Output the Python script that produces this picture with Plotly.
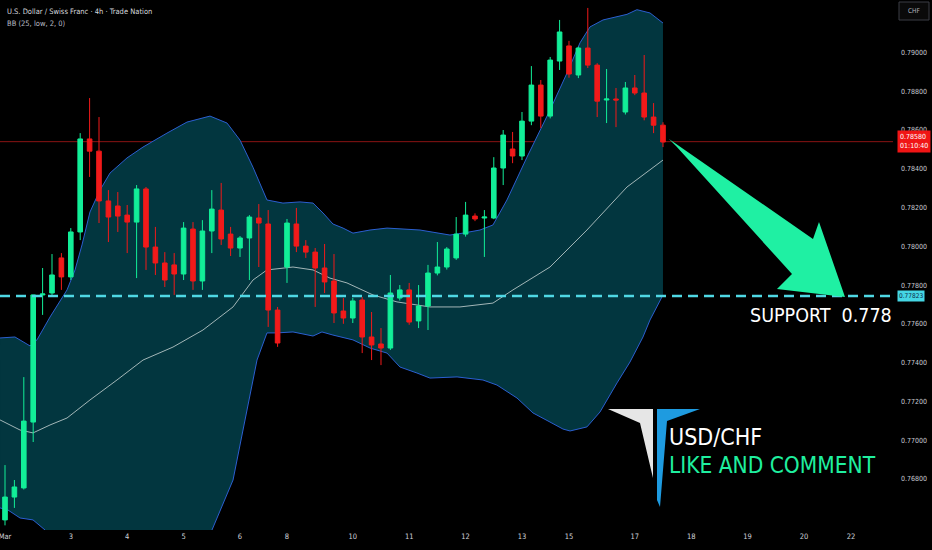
import plotly.graph_objects as go

# ---------------- data ----------------
opens = [0.76588,0.76706,0.76753,0.77093,0.77749,0.77759,0.77940,0.77842,0.78074,0.78554,
         0.78491,0.78234,0.78208,0.78161,0.78125,0.78296,0.77996,0.77914,0.77904,0.77857,
         0.78089,0.77821,0.78079,0.78187,0.78063,0.77991,0.78043,0.78146,0.78115,0.77671,
         0.77893,0.78115,0.78001,0.77970,0.77888,0.77821,0.77666,0.77630,0.77723,0.77532,
         0.77496,0.77475,0.77733,0.77775,0.77615,0.77692,0.77862,0.77893,0.77940,0.78063,
         0.78156,0.78146,0.78146,0.78404,0.78502,0.78466,0.78646,0.78832,0.78672,0.78956,
         0.79034,0.78884,0.79023,0.78935,0.78755,0.78760,0.78693,0.78817,0.78791,0.78667,
         0.78625]
highs = [0.76871,0.76794,0.77325,0.77749,0.77888,0.77960,0.77965,0.78094,0.78584,0.78765,
         0.78667,0.78290,0.78280,0.78213,0.78316,0.78306,0.78100,0.77970,0.77965,0.78125,
         0.78125,0.78135,0.78290,0.78327,0.78100,0.78053,0.78161,0.78218,0.78187,0.77687,
         0.78141,0.78198,0.78032,0.77991,0.78012,0.77960,0.77733,0.77733,0.77738,0.77661,
         0.77578,0.77852,0.77800,0.77811,0.77800,0.77904,0.78022,0.77996,0.78151,0.78229,
         0.78170,0.78187,0.78460,0.78600,0.78590,0.78693,0.78930,0.78858,0.78977,0.79168,
         0.79060,0.79030,0.79230,0.78945,0.78915,0.78817,0.78848,0.78884,0.78987,0.78739,
         0.78640]
lows = [0.76560,0.76650,0.76745,0.76990,0.77646,0.77749,0.77775,0.77826,0.78032,0.78358,
        0.78120,0.78022,0.78074,0.77965,0.77836,0.77878,0.77852,0.77790,0.77749,0.77826,
        0.77775,0.77775,0.77965,0.78007,0.77950,0.77945,0.77826,0.77893,0.77584,0.77481,
        0.77811,0.77970,0.77940,0.77687,0.77759,0.77604,0.77600,0.77604,0.77449,0.77413,
        0.77387,0.77465,0.77720,0.77595,0.77578,0.77568,0.77850,0.77880,0.77930,0.78050,
        0.78130,0.77945,0.78140,0.78316,0.78429,0.78445,0.78625,0.78610,0.78660,0.78910,
        0.78870,0.78868,0.78920,0.78667,0.78636,0.78615,0.78680,0.78780,0.78650,0.78584,
        0.78512]
closes = [0.76706,0.76758,0.77098,0.77749,0.77754,0.77852,0.77842,0.78074,0.78554,0.78491,
          0.78234,0.78151,0.78156,0.78125,0.78296,0.77996,0.77914,0.77826,0.77857,0.78094,
          0.77821,0.78079,0.78192,0.78038,0.77991,0.78043,0.78151,0.78120,0.77671,0.77501,
          0.78120,0.78001,0.77970,0.77888,0.77816,0.77656,0.77630,0.77718,0.77532,0.77491,
          0.77475,0.77759,0.77775,0.77609,0.77692,0.77862,0.77893,0.77986,0.78063,0.78161,
          0.78141,0.78151,0.78404,0.78574,0.78466,0.78646,0.78832,0.78672,0.78961,0.79106,
          0.78889,0.79023,0.78935,0.78749,0.78760,0.78755,0.78817,0.78791,0.78667,0.78625,
          0.78538]
bar_index = list(range(len(opens)))

# Bollinger band (25, low, 2, 0) read at sample positions (bar index units)
upper_x = [-0.53,1.06,2.66,3.40,4.79,6.60,7.45,8.19,9.04,10.11,11.17,12.98,14.68,17.23,19.36,
           21.81,23.62,25.00,26.38,27.87,29.57,31.38,32.77,33.83,34.89,35.96,37.02,38.83,40.64,
           44.15,47.34,48.72,50.53,51.91,53.40,55.53,57.98,59.79,61.17,62.23,63.62,66.17,67.23,
           68.62,70.00]
upper_y = [0.77527,0.77532,0.77486,0.77517,0.77635,0.77775,0.77878,0.78007,0.78177,0.78290,
           0.78378,0.78456,0.78512,0.78584,0.78641,0.78672,0.78636,0.78548,0.78408,0.78239,
           0.78223,0.78229,0.78223,0.78172,0.78115,0.78094,0.78068,0.78084,0.78094,0.78084,
           0.78058,0.78068,0.78084,0.78110,0.78239,0.78460,0.78703,0.78894,0.79050,0.79132,
           0.79168,0.79197,0.79221,0.79204,0.79152]
lower_x = [-0.53,0.32,1.60,2.98,4.26,5.85,10.11,15.43,19.68,22.02,24.26,25.32,26.81,27.87,
           28.94,30.64,32.77,33.72,34.89,37.02,38.83,40.64,42.02,43.83,45.21,48.09,50.85,52.34,
           54.47,56.17,57.98,59.36,60.11,61.91,63.30,65.11,66.49,67.87,68.62,70.00]
lower_y = [0.76650,0.76639,0.76598,0.76588,0.76536,0.76459,0.76356,0.76330,0.76407,0.76536,
           0.76794,0.77052,0.77413,0.77553,0.77553,0.77558,0.77537,0.77558,0.77542,0.77517,
           0.77475,0.77449,0.77377,0.77346,0.77320,0.77326,0.77310,0.77284,0.77217,0.77140,
           0.77093,0.77057,0.77047,0.77068,0.77145,0.77295,0.77403,0.77532,0.77620,0.77749]
mid_x = [-0.53,1.60,2.98,4.79,6.60,9.04,11.91,14.68,17.87,21.06,24.26,26.38,27.87,30.64,
         32.77,34.57,36.38,39.15,41.70,45.21,48.40,51.91,54.04,57.98,61.91,66.17,70.00]
mid_y = [0.77104,0.77052,0.77037,0.77078,0.77114,0.77207,0.77310,0.77413,0.77480,0.77568,
         0.77687,0.77826,0.77878,0.77893,0.77878,0.77836,0.77811,0.77749,0.77713,0.77687,
         0.77687,0.77707,0.77775,0.77893,0.78084,0.78306,0.78445]

support_level = 0.77744
support_label = "0.77823"
last_price = 0.78540
last_label = "0.78580<br>01:10:40"

date_ticks = [0, 7, 13, 19, 25, 30, 37, 43, 49, 55, 60, 67, 73, 79, 85, 90]
date_labels = ["Mar", "3", "4", "5", "6", "8", "10", "11", "12", "13", "15", "17", "18", "19", "20", "22"]
price_ticks = [0.768, 0.770, 0.772, 0.774, 0.776, 0.778, 0.780, 0.782, 0.784, 0.786, 0.788, 0.790]

# ---------------- layout helpers ----------------
W, H = 932, 550
PLOT_R, PLOT_B = 893, 530


def px(xp):
    return xp / PLOT_R


def py(yp):
    return 1 - yp / PLOT_B


def path(points):
    return "M " + " L ".join(f"{px(a):.5f},{py(b):.5f}" for a, b in points) + " Z"


def data_path(xs, ys, close=False):
    s = "M " + " L ".join(f"{a},{b}" for a, b in zip(xs, ys))
    return s + (" Z" if close else "")


GREEN = "#12EE98"
RED = "#F21A1A"
NARROW = "Liberation Sans Narrow, Arial Narrow, DejaVu Sans Condensed, sans-serif"
COND = "DejaVu Sans Condensed, DejaVu Sans, sans-serif"

fig = go.Figure()

fig.add_trace(go.Candlestick(
    x=bar_index, open=opens, high=highs, low=lows, close=closes,
    increasing=dict(line=dict(color=GREEN, width=1), fillcolor=GREEN),
    decreasing=dict(line=dict(color=RED, width=1), fillcolor=RED),
    whiskerwidth=0, showlegend=False, hoverinfo="skip"))

shapes = []
# Bollinger band drawn through the data axes, beneath the candles
shapes.append(dict(type="path", xref="x", yref="y", layer="below",
                   path=data_path(upper_x + lower_x[::-1], upper_y + lower_y[::-1], close=True),
                   fillcolor="#02363F", line=dict(width=0)))
shapes.append(dict(type="path", xref="x", yref="y", layer="below",
                   path=data_path(upper_x, upper_y), line=dict(color="#2B5FD0", width=1)))
shapes.append(dict(type="path", xref="x", yref="y", layer="below",
                   path=data_path(lower_x, lower_y), line=dict(color="#2B5FD0", width=1)))
shapes.append(dict(type="path", xref="x", yref="y", layer="below",
                   path=data_path(mid_x, mid_y), line=dict(color="rgba(190,205,205,0.85)", width=1)))
# current price line
shapes.append(dict(type="line", xref="paper", yref="y", x0=0, x1=1, y0=last_price, y1=last_price,
                   line=dict(color="#8A1414", width=1), layer="below"))
# support dashed line
shapes.append(dict(type="line", xref="paper", yref="y", x0=0, x1=1, y0=support_level, y1=support_level,
                   line=dict(color="#4FD8E4", width=2.5, dash="10px,6px")))
# arrow
shapes.append(dict(type="path", xref="paper", yref="paper",
                   path=path([(669, 139), (813, 239), (819, 222), (845, 297), (777, 289), (792, 274), (676, 146)]),
                   fillcolor="#1FF0A3", line=dict(width=0)))
# logo
shapes.append(dict(type="path", xref="paper", yref="paper",
                   path=path([(608, 409), (653, 409), (653, 478), (640, 423)]),
                   fillcolor="#E6E6E6", line=dict(width=0)))
shapes.append(dict(type="path", xref="paper", yref="paper",
                   path=path([(657, 409), (700, 409), (667, 421), (660, 507), (657, 500)]),
                   fillcolor="#1E9BE0", line=dict(width=0)))
# CHF box
shapes.append(dict(type="rect", xref="paper", yref="paper", x0=px(899), x1=px(929), y0=py(20), y1=py(2),
                   line=dict(color="#3A3D45", width=1), fillcolor="#0A0A0A"))

annotations = [
    dict(text="U.S. Dollar / Swiss Franc · 4h · Trade Nation", x=px(5), y=py(12), xref="paper", yref="paper",
         xanchor="left", yanchor="middle", showarrow=False,
         font=dict(family=NARROW, size=7.5, color="#D6D8DE")),
    dict(text="BB (25, low, 2, 0)", x=px(5), y=py(24), xref="paper", yref="paper",
         xanchor="left", yanchor="middle", showarrow=False,
         font=dict(family=NARROW, size=7.5, color="#B8BBC4")),
    dict(text="CHF", x=px(914), y=py(11), xref="paper", yref="paper", xanchor="center", yanchor="middle",
         showarrow=False, font=dict(family=NARROW, size=6.5, color="#B0B3BA")),
    dict(text=last_label, x=px(897), y=last_price, xref="paper", yref="y", xanchor="left", yanchor="middle",
         showarrow=False, bgcolor="#F01515", borderpad=2, align="left",
         font=dict(family=NARROW, size=7, color="#FFFFFF")),
    dict(text=support_label, x=px(897), y=support_level, xref="paper", yref="y", xanchor="left",
         yanchor="middle", showarrow=False, bgcolor="#45D6E4", borderpad=1,
         font=dict(family=NARROW, size=6.5, color="#0B2A4A")),
    dict(text="SUPPORT  0.778", x=px(748), y=py(315), xref="paper", yref="paper", xanchor="left",
         yanchor="middle", showarrow=False, font=dict(family=COND, size=19.5, color="#FFFFFF")),
    dict(text="USD/CHF", x=px(667), y=py(437), xref="paper", yref="paper", xanchor="left",
         yanchor="middle", showarrow=False, font=dict(family=COND, size=23, color="#FFFFFF")),
    dict(text="LIKE AND COMMENT", x=px(667), y=py(465), xref="paper", yref="paper", xanchor="left",
         yanchor="middle", showarrow=False, font=dict(family=COND, size=22.5, color="#1FEF9F")),
]

fig.update_layout(
    width=W, height=H,
    margin=dict(l=0, r=W - PLOT_R, t=0, b=H - PLOT_B),
    paper_bgcolor="#000000", plot_bgcolor="#000000",
    showlegend=False, shapes=shapes, annotations=annotations,
    xaxis=dict(range=[-0.532, 94.47], tickvals=date_ticks, ticktext=date_labels,
               showgrid=False, zeroline=False, showline=False, ticks="",
               rangeslider=dict(visible=False), ticklabeloverflow="allow",
               tickfont=dict(family=NARROW, size=7.5, color="#D0D3DA")),
    yaxis=dict(range=[0.76536, 0.79271], side="right", tickvals=price_ticks, tickformat=".5f",
               showgrid=False, zeroline=False, showline=False, ticks="",
               ticklabelstandoff=7,
               tickfont=dict(family=NARROW, size=7, color="#C8CBD2")),
)

fig.write_html("out.html", config={"displayModeBar": False},
               post_script="document.body.style.margin='0';document.body.style.overflow='hidden';")
